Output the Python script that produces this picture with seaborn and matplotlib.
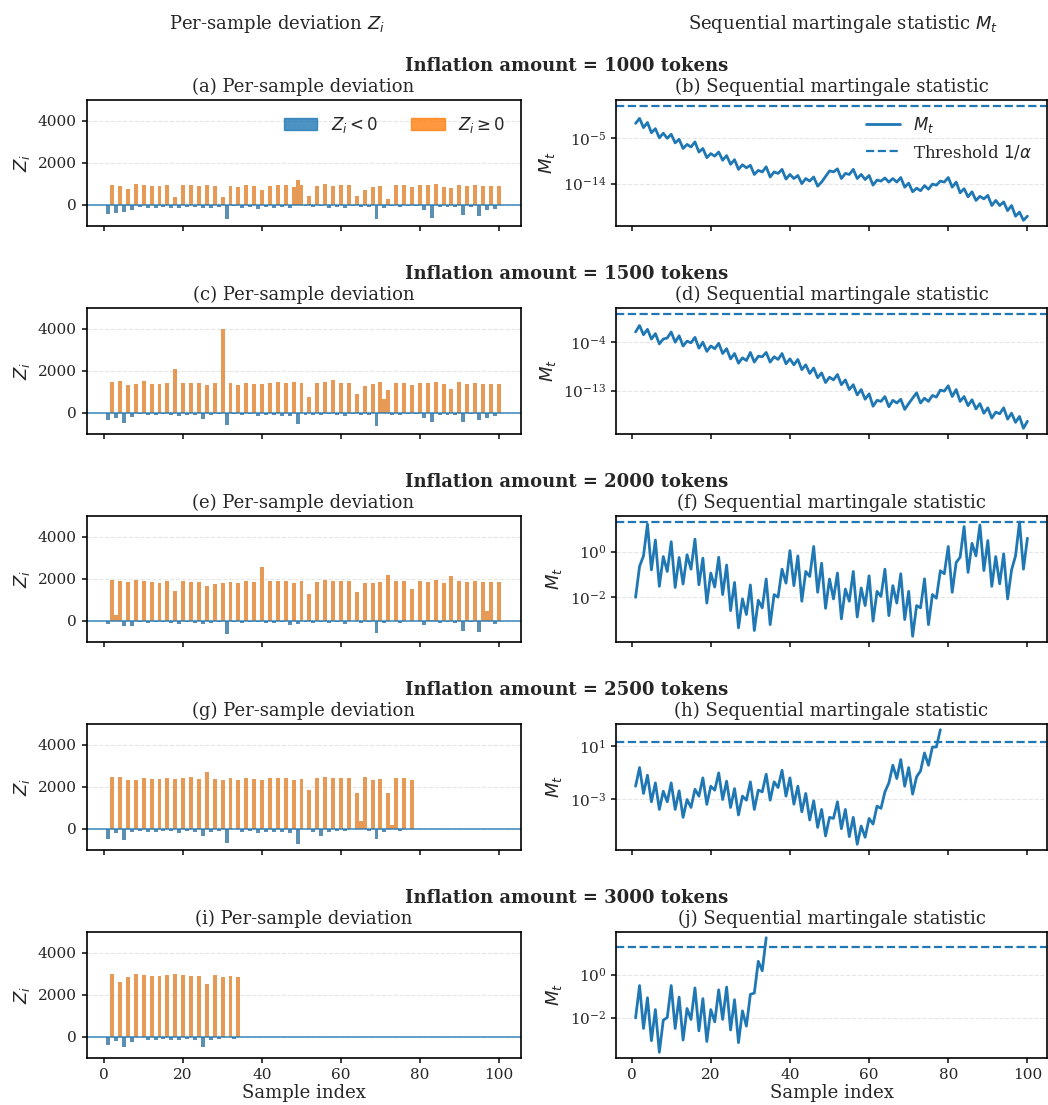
import numpy as np
import pandas as pd
import matplotlib
matplotlib.use("Agg")
import matplotlib.pyplot as plt
import matplotlib.patches as mpatches
import seaborn as sns

# Inflation amounts (one row each)
amounts = [1000, 1500, 2000, 2500, 3000]

# Per-sample deviation Z_i
z_1000 = [-444, 937, -381, 890, -333, 746, -238, 984, -95, 937,
          -143, 890, -143, 890, -95, 937, -143, 365, -143, 937,
          -95, 937, -95, 890, -143, 937, -143, 890, -95, 365,
          -683, 890, -48, 840, -143, 937, -95, 890, -190, 700,
          -95, 890, -143, 937, -95, 937, -143, 840, 1175, 937,
          -48, 413, -95, 890, -48, 984, -143, 890, -95, 937,
          -143, 937, -48, 413, -95, 700, -95, 840, -683, 890,
          -143, 270, -48, 937, -95, 937, -48, 840, -48, 937,
          -238, 937, -619, 984, -95, 840, -95, 794, -95, 937,
          -476, 890, -95, 937, -524, 890, -238, 890, -190, 890]
z_1500 = [-333, 1460, -238, 1508, -476, 1317, -190, 1365, -48, 1508,
          -95, 1365, -95, 1365, -48, 1413, -95, 2079, -143, 1413,
          -95, 1413, -95, 1413, -286, 1317, -95, 1413, -48, 3984,
          -571, 1413, -48, 1317, -95, 1413, -48, 1365, -143, 1365,
          -95, 1413, -95, 1460, -143, 1413, -143, 1460, -524, 1413,
          -95, 746, -95, 1413, -95, 1460, -48, 1556, -95, 1413,
          -143, 1413, -48, 889, -95, 1270, -95, 1365, -619, 1460,
          651, 1079, -95, 1413, -95, 1413, -48, 1317, -48, 1413,
          -238, 1413, -429, 1460, -95, 1365, -95, 1127, -95, 1460,
          -429, 1365, -48, 1413, -333, 1365, -238, 1365, -143, 1365]
z_2000 = [-159, 1968, 300, 1920, -254, 1873, -254, 1968, -63, 1920,
          -111, 1873, -63, 1825, -63, 1920, -111, 1444, -159, 1920,
          -63, 1873, -111, 1873, -159, 1683, -111, 1778, -63, 1825,
          -635, 1873, -63, 1825, -111, 1920, -30, 1873, -63, 2587,
          -111, 1920, -111, 1920, -30, 1920, -206, 1825, -159, 1920,
          -63, 1302, -111, 1873, -63, 1968, -111, 1920, -63, 1920,
          -159, 1920, -20, 1397, -111, 1825, -63, 1825, -587, 1873,
          -111, 2206, -20, 1920, -111, 1920, -20, 1540, -20, 1920,
          -206, 1873, 60, 1968, -111, 1825, -63, 2159, -111, 1920,
          -492, 1873, -63, 1920, -540, 1873, 492, 1873, -159, 1873]
z_2500 = [-476, 2460, -190, 2460, -524, 2317, -143, 2317, -95, 2413,
          -143, 2365, -143, 2365, -95, 2413, -95, 2365, -190, 2413,
          -95, 2460, -143, 2365, -333, 2698, -143, 2365, -95, 2317,
          -667, 2413, -20, 2317, -143, 2413, -95, 2365, -190, 2317,
          -143, 2413, -143, 2413, -143, 2413, -190, 2317, -714, 2365,
          -20, 1841, -143, 2413, -333, 2460, -143, 2413, -95, 2413,
          -95, 2413, -20, 1698, 365, 2460, -95, 2317, -476, 2365,
          -143, 1698, 175, 2413, -95, 2413, -20, 2317]
z_3000 = [-381, 2984, -190, 2603, -476, 2841, -238, 2984, -20, 2937,
          -143, 2889, -143, 2889, -95, 2937, -143, 2984, -143, 2937,
          -95, 2889, -143, 2889, -476, 2508, -143, 2937, -95, 2841,
          -20, 2889, -95, 2841]

# Sequential martingale statistic M_t (log10 values)
logm_1000 = [-2.17, -1.19, -3.0, -2.0, -4.0, -3.2, -5.0, -4.1, -5.1, -4.3,
             -6.0, -5.3, -7.1, -6.3, -6.8, -5.8, -7.8, -7.1, -8.9, -8.1,
             -8.6, -7.8, -9.4, -8.5, -10.2, -9.3, -11.2, -10.3, -10.9, -10.4,
             -12.2, -11.4, -11.7, -10.7, -12.7, -11.7, -12.0, -11.2, -13.1, -12.2,
             -13.0, -12.4, -14.0, -13.0, -13.5, -12.7, -14.5, -13.7, -12.6, -11.5,
             -11.7, -11.1, -13.0, -12.0, -12.2, -11.2, -13.0, -12.2, -13.2, -12.4,
             -14.3, -13.3, -13.5, -12.9, -13.7, -13.0, -13.7, -12.8, -14.7, -13.9,
             -15.6, -14.9, -15.4, -14.4, -15.1, -14.1, -14.3, -13.5, -13.7, -12.8,
             -14.7, -13.7, -15.8, -15.0, -16.6, -15.6, -17.3, -16.5, -17.0, -16.3,
             -18.3, -17.3, -18.3, -17.6, -19.3, -18.3, -20.4, -19.6, -21.2, -20.4]
logm_1500 = [-2.07, -0.9, -2.6, -1.6, -3.4, -2.4, -4.3, -3.4, -3.2, -2.1,
             -4.0, -2.8, -4.7, -3.8, -4.1, -3.1, -5.1, -4.0, -5.7, -4.7,
             -5.2, -4.2, -6.1, -5.2, -7.1, -6.1, -7.9, -6.9, -7.4, -5.9,
             -7.7, -6.6, -6.7, -5.9, -7.7, -6.7, -7.2, -6.1, -8.0, -7.1,
             -8.2, -7.2, -9.1, -8.2, -9.8, -8.8, -10.6, -9.7, -11.5, -10.5,
             -11.0, -10.0, -11.9, -11.0, -12.8, -11.9, -13.8, -12.8, -14.6, -13.6,
             -15.9, -14.8, -15.0, -14.1, -16.0, -14.8, -15.3, -14.6, -16.5, -15.4,
             -14.4, -13.4, -15.3, -14.4, -15.0, -13.9, -14.2, -12.9, -13.1, -12.1,
             -14.1, -12.8, -15.0, -14.1, -15.8, -14.7, -16.4, -15.4, -17.2, -16.2,
             -18.1, -17.0, -17.3, -16.2, -18.3, -17.2, -18.9, -17.8, -20.0, -18.7]
logm_2000 = [-2.0, -0.65, -0.19, 1.2, -0.8, 0.5, -1.52, -0.22, -0.87, 0.43,
             -1.57, -0.26, -1.42, -0.14, -0.77, 0.54, -1.45, -0.29, -2.25, -0.94,
             -1.55, -0.25, -1.88, -0.59, -2.58, -1.35, -3.33, -2.07, -2.75, -1.46,
             -3.45, -2.13, -2.46, -1.2, -3.19, -1.88, -1.99, -0.77, -1.38, 0.04,
             -1.49, -0.19, -2.17, -0.87, -1.09, 0.22, -1.78, -0.51, -2.48, -1.2,
             -2.07, -0.94, -2.94, -1.64, -2.17, -0.87, -2.86, -1.59, -2.36, -1.06,
             -3.04, -1.74, -1.96, -0.77, -2.8, -1.49, -2.25, -0.97, -2.97, -1.74,
             -3.7, -2.36, -2.46, -1.19, -3.19, -1.88, -2.04, -0.84, -0.97, 0.22,
             -1.78, -0.48, -0.25, 1.09, -0.91, 0.36, -0.19, 1.16, -0.83, 0.48,
             -1.52, -0.22, -1.41, -0.1, -2.07, -0.8, -0.19, 1.29, -0.77, 0.58]
logm_2500 = [-2.02, -0.61, -2.57, -1.19, -3.2, -1.77, -3.78, -2.4, -3.2, -1.77,
             -3.78, -2.37, -4.38, -3.03, -3.63, -2.25, -2.77, -1.39, -3.4, -2.02,
             -2.32, -1.01, -3.03, -1.64, -3.63, -2.2, -4.2, -2.77, -3.08, -1.69,
             -3.78, -2.32, -2.45, -1.11, -3.08, -1.69, -2.12, -0.81, -2.77, -1.39,
             -3.38, -2.02, -3.96, -2.57, -4.58, -3.13, -5.14, -3.78, -5.79, -4.38,
             -4.46, -3.2, -5.24, -3.78, -5.84, -4.38, -6.42, -5.04, -5.89, -4.46,
             -4.89, -3.53, -3.7, -2.45, -1.77, -0.43, -1.44, 0.0, -2.02, -0.61,
             -2.62, -1.31, -0.86, 0.5, -0.43, 0.95, 0.95, 2.26]
logm_3000 = [-2.02, -0.51, -2.51, -1.08, -3.08, -1.63, -3.62, -2.12, -2.0, -0.51,
             -2.51, -1.05, -3.05, -1.58, -2.09, -0.62, -2.62, -1.12, -3.12, -1.63,
             -2.2, -0.71, -2.09, -0.58, -2.58, -1.17, -3.17, -1.69, -2.4, -0.92,
             -0.86, 0.62, 0.18, 1.72]

# Decade exponents labelled on each log axis
m_tick_exps = [[-14, -5], [-13, -4], [-2, 0], [-3, 1], [-2, 0]]

alpha = 0.05
threshold = 1 / alpha

z_sets = [z_1000, z_1500, z_2000, z_2500, z_3000]
m_sets = [logm_1000, logm_1500, logm_2000, logm_2500, logm_3000]
letters = "abcdefghij"
neg_lab = r"$Z_i < 0$"
pos_lab = r"$Z_i \geq 0$"

sns.set_theme(style="ticks", context="notebook")
plt.rcParams["font.family"] = ["DejaVu Serif"]
plt.rcParams["mathtext.fontset"] = "dejavusans"
plt.rcParams["xtick.major.size"] = 3.5
plt.rcParams["ytick.major.size"] = 3.5
plt.rcParams["xtick.labelsize"] = 11
plt.rcParams["ytick.labelsize"] = 11
plt.rcParams["axes.labelsize"] = 13
plt.rcParams["axes.titlesize"] = 13
plt.rcParams["legend.fontsize"] = 12
plt.rcParams["axes.edgecolor"] = "black"
plt.rcParams["axes.linewidth"] = 1.2

blue, orange = sns.color_palette("tab10")[0], sns.color_palette("tab10")[1]

W, H = 1048, 1105
fig = plt.figure(figsize=(W / 100, H / 100), dpi=100)


def box(x0, y0, w, h):
    return [x0 / W, 1 - (y0 + h) / H, w / W, h / H]


fig.text(277 / W, 1 - 24 / H, "Per-sample deviation $Z_i$", ha="center", va="center", fontsize=13)
fig.text(843 / W, 1 - 24 / H, "Sequential martingale statistic $M_t$", ha="center", va="center", fontsize=13)

for k, amt in enumerate(amounts):
    top = 100 + 208 * k
    ax_z = fig.add_axes(box(86.5, top, 434, 126))
    ax_m = fig.add_axes(box(616, top, 431, 126))

    fig.text(567 / W, 1 - (top - 34) / H, f"Inflation amount = {amt} tokens",
             ha="center", va="center", fontsize=13, fontweight="bold")

    # Left: per-sample deviation bars
    z = np.array(z_sets[k])
    df = pd.DataFrame({"i": np.arange(1, len(z) + 1), "z": z})
    df["sign"] = np.where(df["z"] < 0, neg_lab, pos_lab)
    sns.barplot(data=df, x="i", y="z", hue="sign", hue_order=[neg_lab, pos_lab],
                palette={neg_lab: blue, pos_lab: orange}, native_scale=True,
                width=1.0, alpha=0.8, errorbar=None, dodge=False, legend=False,
                linewidth=0, ax=ax_z)
    ax_z.axhline(0, color=blue, lw=1.2, alpha=0.8)
    ax_z.set_xlim(-4.5, 105.5)
    ax_z.set_ylim(-1000, 5000)
    ax_z.set_yticks([0, 2000, 4000])
    ax_z.set_xticks([0, 20, 40, 60, 80, 100])
    ax_z.yaxis.grid(True, ls="--", color="0.9", lw=0.8)
    ax_z.set_axisbelow(True)
    ax_z.set_ylabel("$Z_i$")
    ax_z.set_title(f"({letters[2 * k]}) Per-sample deviation")

    # Right: martingale statistic on a log scale
    m = 10.0 ** np.array(m_sets[k])
    t = np.arange(1, len(m) + 1)
    sns.lineplot(x=t, y=m, color=blue, lw=2, label="$M_t$", legend=False, ax=ax_m)
    ax_m.axhline(threshold, ls="--", color=blue, lw=1.6, label=r"Threshold $1/\alpha$")
    ax_m.set_yscale("log")
    ax_m.set_yticks([10.0 ** e for e in m_tick_exps[k]])
    ax_m.minorticks_off()
    ax_m.set_xlim(-3.95, 104.95)
    ax_m.set_xticks([0, 20, 40, 60, 80, 100])
    ax_m.yaxis.grid(True, ls="--", color="0.9", lw=0.8)
    ax_m.set_axisbelow(True)
    ax_m.set_ylabel("$M_t$")
    ax_m.set_title(f"({letters[2 * k + 1]}) Sequential martingale statistic")

    if k == 0:
        handles = [mpatches.Patch(color=blue, alpha=0.8, label=neg_lab),
                   mpatches.Patch(color=orange, alpha=0.8, label=pos_lab)]
        ax_z.legend(handles=handles, loc="upper right", ncol=2, frameon=False)
        ax_m.legend(loc="upper right", frameon=False)

    if k == len(amounts) - 1:
        ax_z.set_xlabel("Sample index", labelpad=1.5)
        ax_m.set_xlabel("Sample index", labelpad=1.5)
    else:
        ax_z.set_xlabel("")
        ax_m.set_xlabel("")
        ax_z.tick_params(labelbottom=False)
        ax_m.tick_params(labelbottom=False)

fig.savefig("out.png", dpi=100)
